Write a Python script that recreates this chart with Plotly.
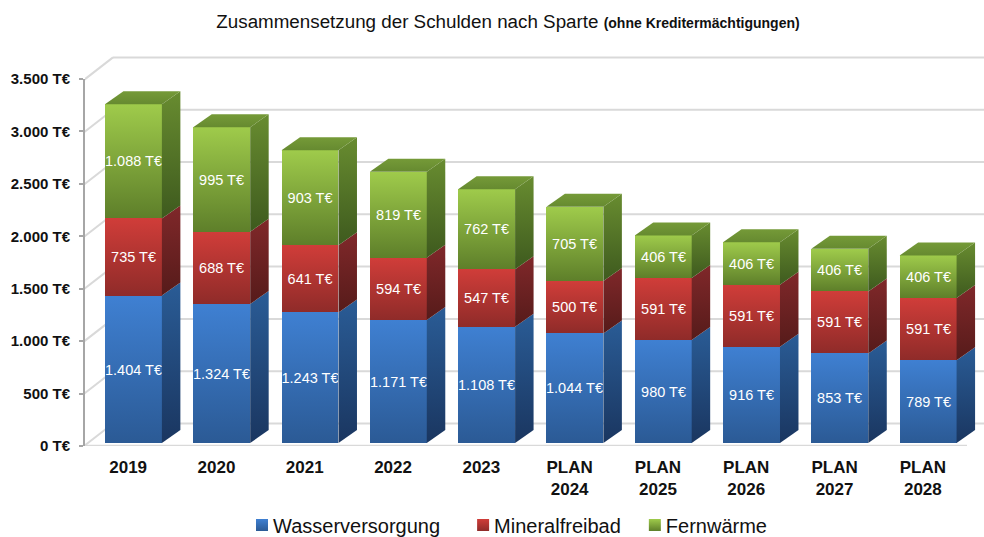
import plotly.graph_objects as go

categories = ["2019", "2020", "2021", "2022", "2023", "PLAN<br>2024", "PLAN<br>2025", "PLAN<br>2026", "PLAN<br>2027", "PLAN<br>2028"]
wasser = [1404, 1324, 1243, 1171, 1108, 1044, 980, 916, 853, 789]
mineral = [735, 688, 641, 594, 547, 500, 591, 591, 591, 591]
fernwaerme = [1088, 995, 903, 819, 762, 705, 406, 406, 406, 406]
series_names = ["Wasserversorgung", "Mineralfreibad", "Fernwärme"]
y_ticks = [0, 500, 1000, 1500, 2000, 2500, 3000, 3500]
y_tick_labels = ["0 T€", "500 T€", "1.000 T€", "1.500 T€", "2.000 T€", "2.500 T€", "3.000 T€", "3.500 T€"]

W, H = 984, 537
def de(v):
    return f"{v:,}".replace(",", ".") + " T€"

series = [wasser, mineral, fernwaerme]
# gradient stops: front top/bottom, side top/bottom
front = [("#3f80d2", "#2b5a95"), ("#d03d39", "#8f2b29"), ("#9fcb4b", "#5e7f2a")]
side = [("#2a5c96", "#1a3660"), ("#80282a", "#561b1a"), ("#688c30", "#3e5a1e")]
top_col = ("#759a38", "#668a30")

PITCH = 88.3
PX_Y2 = 0.105
BAR_OFF, BAR_W = -0.263, 0.645
DX, DY = 18.5 / PITCH, 13 / PX_Y2
x_left, x_right = -0.5 + 1 / PITCH, -0.5 + 900 / PITCH
y2_range = [-3 / PX_Y2, 393 / PX_Y2]

fig = go.Figure()
fig.add_trace(go.Scatter(x=[0], y=[0], mode="markers", marker=dict(opacity=0), showlegend=False, hoverinfo="skip", xaxis="x", yaxis="y"))

base = [0] * len(categories)
for s, vals in enumerate(series):
    fig.add_trace(go.Bar(
        x=list(range(len(categories))), y=vals, base=base, offset=BAR_OFF, width=BAR_W,
        name=series_names[s], yaxis="y2", marker=dict(color=front[s][0], line=dict(width=0)),
        text=[de(v) for v in vals], textposition="inside", insidetextanchor="middle",
        textangle=0, constraintext="none", insidetextfont=dict(color="white", size=14.5, family="Liberation Sans"),
        meta=f"gf{s}", hoverinfo="name+y"))
    base = [b + v for b, v in zip(base, vals)]

base = [0] * len(categories)
uids = []
for s, vals in enumerate(series):
    for i, v in enumerate(vals):
        xr = i + BAR_OFF + BAR_W
        lo, hi = base[i], base[i] + v
        uid = f"side{s}n{i}"
        uids.append((uid, f"gs{s}"))
        fig.add_trace(go.Scatter(x=[xr, xr + DX, xr + DX, xr, xr], y=[lo, lo + DY, hi + DY, hi, lo],
                                 mode="lines", line=dict(width=0), fill="toself", fillcolor=side[s][0],
                                 yaxis="y2", showlegend=False, hoverinfo="skip", uid=uid))
    base = [b + v for b, v in zip(base, vals)]
for i, t in enumerate(base):
    xl = i + BAR_OFF
    xr = xl + BAR_W
    uid = f"top{i}"
    uids.append((uid, "gt"))
    fig.add_trace(go.Scatter(x=[xl, xl + DX, xr + DX, xr, xl], y=[t, t + DY, t + DY, t, t],
                             mode="lines", line=dict(width=0), fill="toself", fillcolor=top_col[0],
                             yaxis="y2", showlegend=False, hoverinfo="skip", uid=uid))

# Conversions from the tick axis into the bar axis for the back wall and floor
PX_Y = 52.3 / 500
def wall(v, lift):
    return (v * PX_Y - 3 + lift) / PX_Y2

shapes = []
grid = dict(color="#d9d9d9", width=2)
for v in y_ticks:
    shapes.append(dict(type="line", xref="x", yref="y2", layer="below", line=grid,
                       x0=-0.5 + 29 / PITCH, x1=x_right, y0=wall(v, 22.5), y1=wall(v, 22.5)))
    shapes.append(dict(type="line", xref="x", yref="y2", layer="below", line=grid,
                       x0=-0.5, x1=-0.5 + 29 / PITCH, y0=wall(v, 0), y1=wall(v, 22.5)))
shapes.append(dict(type="line", xref="x", yref="y2", layer="below", line=dict(color="#d9d9d9", width=2.5),
                   x0=-0.5, x1=9.5, y0=wall(0, 0), y1=wall(0, 0)))

fig.update_layout(
    width=W, height=H, autosize=False, margin=dict(l=0, r=0, t=0, b=0, autoexpand=False),
    paper_bgcolor="white", plot_bgcolor="white", bargap=0, barmode="overlay",
    font=dict(family="Liberation Sans", color="#111111"),
    title=dict(text="Zusammensetzung der Schulden nach Sparte <span style='font-size:14px'><b>(ohne Kreditermächtigungen)</b></span>",
               x=508 / W, xanchor="center", y=1 - 21 / H, yanchor="middle", font=dict(size=18.8, color="#111111")),
    xaxis=dict(domain=[85 / W, 1], range=[x_left, x_right], tickmode="array",
               tickvals=list(range(len(categories))), ticktext=categories, showgrid=False, zeroline=False,
               ticks="", tickfont=dict(size=17, family="Liberation Sans", weight="bold"), ticklabelstandoff=9, anchor="y"),
    yaxis=dict(domain=[1 - 446 / H, 1 - 79 / H], range=[0, 3500], tickmode="array", tickvals=y_ticks,
               ticktext=y_tick_labels, showgrid=False, zeroline=False, showline=True, linecolor="#a6a6a6", linewidth=2,
               ticks="outside", ticklen=4, tickwidth=2, tickcolor="#a6a6a6",
               tickfont=dict(size=15, family="Liberation Sans", weight="bold"), ticklabelstandoff=6, anchor="x"),
    yaxis2=dict(domain=[1 - 446 / H, 1 - 50 / H], range=y2_range, visible=False, anchor="x"),
    shapes=shapes,
    legend=dict(orientation="h", x=242 / W, xanchor="left", y=1 - 525 / H, yanchor="middle",
                font=dict(size=20, family="Liberation Sans", color="#111111"), bgcolor="rgba(0,0,0,0)"),
    hovermode="closest",
)

def stop(gid, c):
    return f"mk('{gid}','{c[0]}','{c[1]}');"
mk_calls = "".join(stop(f"gf{s}", front[s]) + stop(f"gs{s}", side[s]) for s in range(3)) + stop("gt", top_col)
pairs = ",".join(f"['{u}','{g}']" for u, g in uids)
post = """
document.body.style.margin='0';
var gd=document.getElementById('{plot_id}');
var svg=gd.querySelector('svg.main-svg');
var NS='http://www.w3.org/2000/svg';
var defs=document.createElementNS(NS,'defs');svg.insertBefore(defs,svg.firstChild);
function mk(id,a,b){var g=document.createElementNS(NS,'linearGradient');g.setAttribute('id',id);
g.setAttribute('x1','0');g.setAttribute('y1','0');g.setAttribute('x2','0');g.setAttribute('y2','1');
[[0,a],[1,b]].forEach(function(p){var s=document.createElementNS(NS,'stop');s.setAttribute('offset',p[0]);s.setAttribute('stop-color',p[1]);g.appendChild(s);});
defs.appendChild(g);}
""" + mk_calls + """
gd.querySelectorAll('.barlayer .trace').forEach(function(t,i){t.querySelectorAll('.point path').forEach(function(p){p.style.setProperty('fill','url(#gf'+i+')');});});
[""" + pairs + """].forEach(function(p){var f=gd.querySelector('.trace'+p[0]+' .js-fill');if(f)f.style.setProperty('fill','url(#'+p[1]+')');});
var sb=gd.querySelector('.legend .scrollbox');if(sb){sb.removeAttribute('clip-path');}
gd.querySelectorAll('.legend .traces').forEach(function(t,i){
 t.querySelectorAll('.legendpoints path').forEach(function(p){p.style.setProperty('fill','url(#gf'+i+')');});
 var x=t.querySelector('.legendtext');if(x){x.setAttribute('x',parseFloat(x.getAttribute('x'))-9);}
 if(i>0){var m=/translate\\(\\s*([-\\d.]+)[ ,]+([-\\d.]+)/.exec(t.getAttribute('transform'));
  if(m){t.setAttribute('transform','translate('+(parseFloat(m[1])+9)+','+m[2]+')');}}
});
"""
fig.write_html("out.html", post_script=post, config=dict(displayModeBar=False))
